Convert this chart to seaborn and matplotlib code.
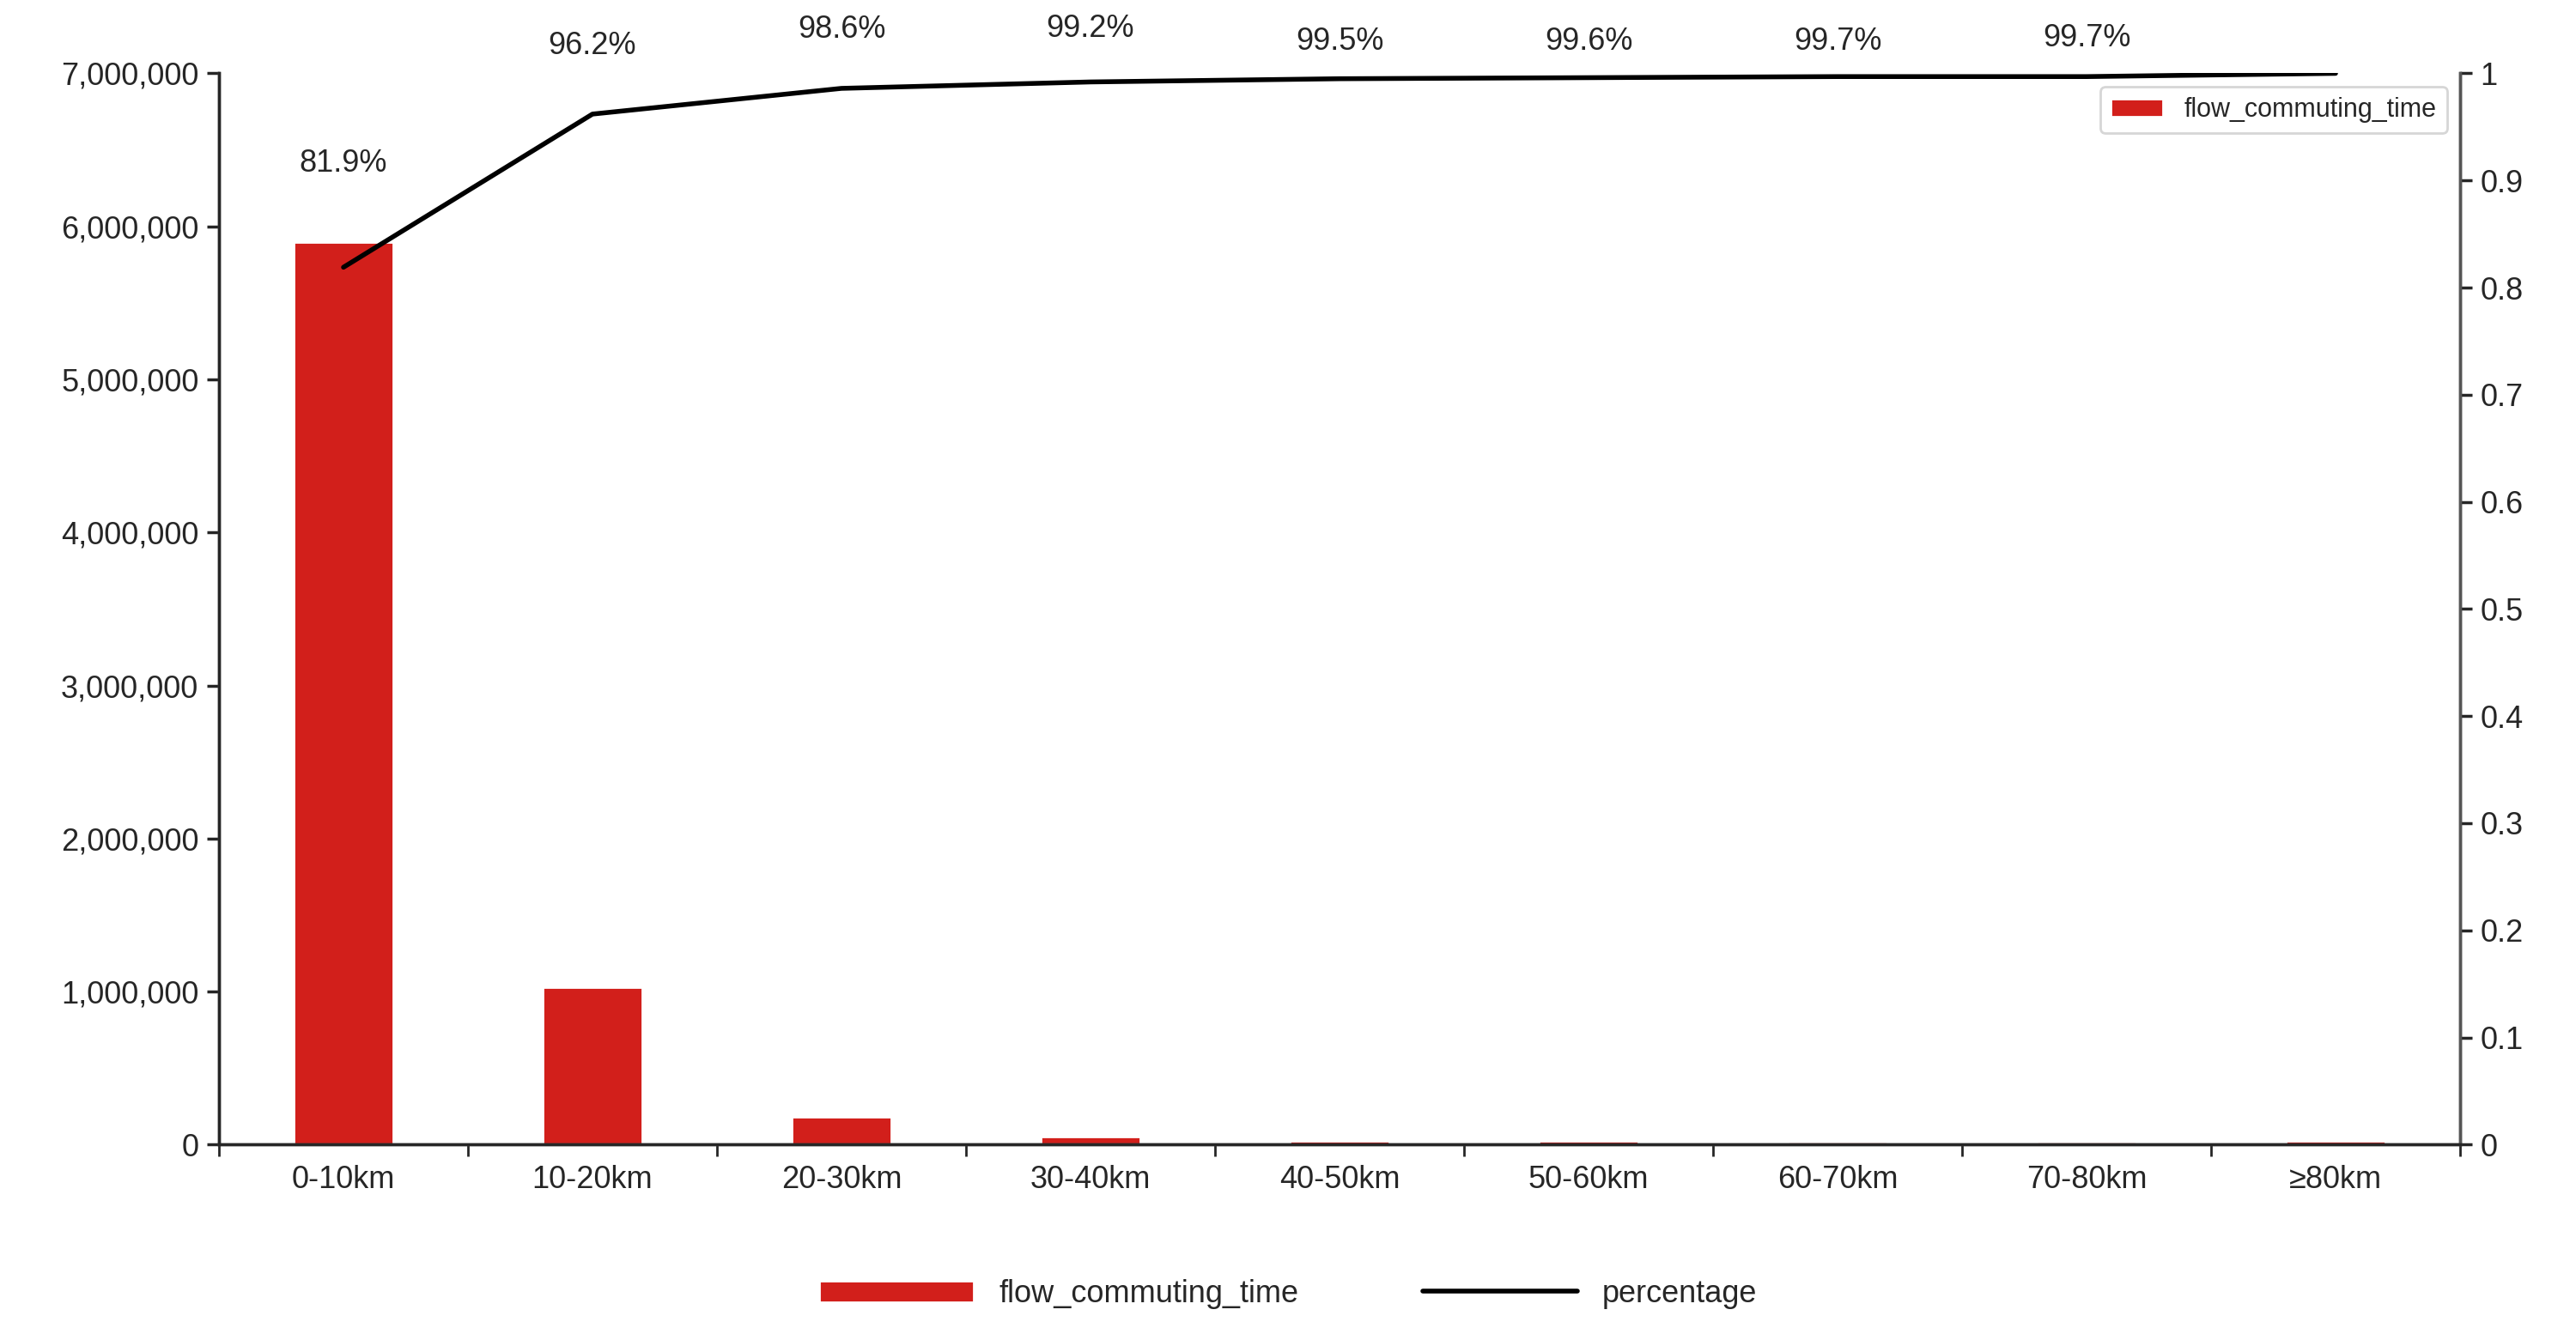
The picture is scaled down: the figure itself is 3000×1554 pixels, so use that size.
import matplotlib
matplotlib.use("Agg")
import matplotlib.pyplot as plt
import seaborn as sns
import pandas as pd
import numpy as np
from matplotlib.ticker import FuncFormatter

categories = ["0-10km","10-20km","20-30km","30-40km","40-50km","50-60km","60-70km","70-80km","≥80km"]
flow = [5900000, 1030000, 180000, 50000, 25000, 22000, 20000, 20000, 22000]
percentage = [0.819, 0.962, 0.986, 0.992, 0.995, 0.996, 0.997, 0.997, 1.0]
labels = ["81.9%","96.2%","98.6%","99.2%","99.5%","99.6%","99.7%","99.7%",""]
label_y = [0.916, 1.026, 1.041, 1.042, 1.03, 1.03, 1.03, 1.033, None]

sns.set_theme(style="white")
plt.rcParams['font.family'] = ['Liberation Sans', 'DejaVu Sans']
df = pd.DataFrame({"cat": categories, "flow": flow, "pct": percentage, "x": range(len(categories))})

fig = plt.figure(figsize=(15, 7.77), dpi=200)
ax = fig.add_axes([0.085, 0.142, 0.87, 0.803])
sns.barplot(data=df, x="cat", y="flow", color="#d21f1b", width=0.4, ax=ax, saturation=1,
            label="flow_commuting_time")
ax.set_ylim(0, 7000000)
ax.set_xlim(-0.5, len(categories) - 0.5)
ax.yaxis.set_major_formatter(FuncFormatter(lambda v, p: f"{int(v):,}"))
ax.set_xlabel(""); ax.set_ylabel("")
ax.tick_params(labelsize=13, length=5, direction="out", left=True, bottom=False)
ax.set_xticks(np.arange(-0.5, len(categories)), minor=True)
ax.tick_params(axis="x", which="minor", length=5, bottom=True)
for s in ["top"]:
    ax.spines[s].set_visible(False)
for s in ["left", "bottom", "right"]:
    ax.spines[s].set_color("#555555")

ax2 = ax.twinx()
sns.lineplot(data=df, x="x", y="pct", color="black", linewidth=2, ax=ax2, label="percentage", legend=False)
ax2.set_ylim(0, 1)
ax2.set_yticks(np.arange(0, 1.01, 0.1))
ax2.yaxis.set_major_formatter(FuncFormatter(lambda v, p: f"{v:.1f}".rstrip("0").rstrip(".") if v > 0 else "0"))
ax2.set_ylabel("")
ax2.tick_params(labelsize=13, length=5, direction="out", right=True)
ax2.spines["top"].set_visible(False)
ax2.spines["right"].set_color("#555555")
for i, (t, yy) in enumerate(zip(labels, label_y)):
    if t:
        ax2.text(i, yy, t, ha="center", va="center", fontsize=13, clip_on=False)

h1, l1 = ax.get_legend_handles_labels()
h2, l2 = ax2.get_legend_handles_labels()
fig.legend(h1 + h2, l1 + l2, loc="center", bbox_to_anchor=(0.5, 0.03), ncol=2, frameon=False,
           fontsize=13, handlelength=5, columnspacing=4)
fig.savefig("out.png", dpi=200)
